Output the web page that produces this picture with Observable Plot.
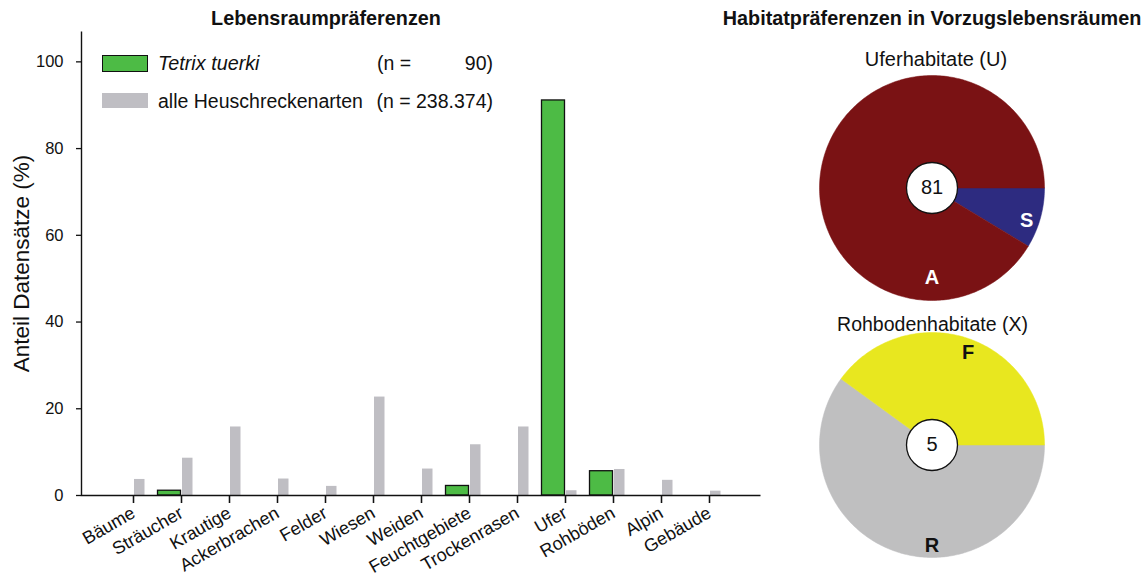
<!DOCTYPE html>
<html><head><meta charset="utf-8">
<script src="https://cdn.jsdelivr.net/npm/d3@7"></script>
<script src="https://cdn.jsdelivr.net/npm/@observablehq/plot@0.6"></script>
<style>
body{margin:0;background:#fff;font-family:"Liberation Sans",Arial,sans-serif;}
#root{position:relative;width:1146px;height:576px;overflow:hidden;background:#fff;}
.abs{position:absolute;white-space:nowrap;line-height:1;color:#111;}
.plotbox{position:absolute;}
</style></head><body><div id="root"></div>
<script>
// ---------- data ----------
const categories = ["Bäume","Sträucher","Krautige","Ackerbrachen","Felder","Wiesen","Weiden","Feuchtgebiete","Trockenrasen","Ufer","Rohböden","Alpin","Gebäude"];
const tetrixShare = [0, 1.1, 0, 0, 0, 0, 0, 2.2, 0, 91.1, 5.6, 0, 0];
const allShare    = [3.7, 8.6, 15.8, 3.8, 2.1, 22.7, 6.1, 11.7, 15.8, 1.1, 6.0, 3.5, 1.0];
const seriesNames = ["Tetrix tuerki", "alle Heuschreckenarten"];
const seriesN = ["90", "238.374"];
const yTicks = [0, 20, 40, 60, 80, 100];

const uferKeys = ["S", "A"];
const uferValues = [7, 74];
const rohKeys = ["R", "F"];
const rohValues = [3, 2];

const mainTitle = "Lebensraumpräferenzen";
const rightTitle = "Habitatpräferenzen in Vorzugslebensräumen";
const uferTitle = "Uferhabitate (U)";
const rohTitle = "Rohbodenhabitate (X)";
const yLabel = "Anteil Datensätze (%)";

// ---------- build ----------
const root = document.getElementById("root");
const FONT = "Liberation Sans, Arial, sans-serif";

const tetrixRows = categories.map((c, i) => ({cat: c, value: tetrixShare[i]})).filter(d => d.value > 0);
const allRows = categories.map((c, i) => ({cat: c, value: allShare[i]}));

const W = 780, H = 576, mL = 81, mR = 20, mT = 31, mB = 81;
const fw = W - mL - mR, fh = H - mT - mB;

const bars = Plot.plot({
  width: W, height: H,
  marginLeft: mL, marginRight: mR, marginTop: mT, marginBottom: mB,
  style: {fontFamily: FONT, fontSize: "17px", color: "#111", background: "transparent", overflow: "visible"},
  x: {domain: categories, paddingInner: 0, paddingOuter: 0.43},
  y: {domain: [0, 107], axis: null},
  marks: [
    Plot.barY(allRows, {x: "cat", y: "value", fill: "#bfbec3", insetLeft: 25, insetRight: 12.5}),
    Plot.barY(tetrixRows, {x: "cat", y: "value", fill: "#4dbb45", stroke: "#111", strokeWidth: 1.3, insetLeft: 0.5, insetRight: 24.5}),
    // left + bottom axis lines (frame stroked only along its left and bottom edges)
    Plot.frame({stroke: "#111", strokeWidth: 1.4, strokeDasharray: `0 ${fw + fh} ${fw + fh}`}),
    // y ticks and labels
    Plot.tickY(yTicks, {y: d => d, stroke: "#111", strokeWidth: 1.3, insetLeft: -5, insetRight: fw}),
    Plot.text(yTicks, {y: d => d, text: d => String(d), frameAnchor: "left", dx: -18, textAnchor: "end", fontSize: 16.5, fill: "#111"}),
    // x ticks and rotated labels
    Plot.tickX(categories, {x: d => d, stroke: "#111", strokeWidth: 1.3, insetTop: fh, insetBottom: -8}),
    Plot.axisX({tickRotate: -30, tickSize: 8, tickPadding: 8, fontSize: 18, stroke: "#111", strokeWidth: 1.3, label: null}),
    Plot.text([yLabel], {frameAnchor: "left", text: d => d, rotate: -90, dx: -59.5, textAnchor: "middle", fontSize: 22.5, fill: "#111"})
  ]
});
const barBox = document.createElement("div");
barBox.className = "plotbox";
barBox.style.left = "0px"; barBox.style.top = "0px";
barBox.appendChild(bars);
root.appendChild(barBox);

// ---------- pies ----------
function pieChart(keys, values, colors, labelColor, bottomR, midR) {
  const total = d3.sum(values);
  const arcs = d3.pie().sort(null).startAngle(Math.PI / 2).endAngle(Math.PI / 2 + 2 * Math.PI)(values);
  const pt = (a, r) => ({x: r * Math.sin(a), y: r * Math.cos(a)});
  const marks = [];
  arcs.forEach((arc, i) => {
    const n = Math.max(2, Math.ceil((arc.endAngle - arc.startAngle) / (Math.PI / 180)));
    const pts = [pt(0, 0)];
    for (let k = 0; k <= n; k++) pts.push(pt(arc.startAngle + (arc.endAngle - arc.startAngle) * k / n, 1));
    pts.push(pt(0, 0));
    marks.push(Plot.line(pts, {x: "x", y: "y", fill: colors[i], stroke: colors[i], strokeWidth: 0.5, curve: "linear"}));
  });
  const labels = arcs.map((arc, i) => {
    const containsBottom = arc.startAngle <= Math.PI && arc.endAngle >= Math.PI;
    const a = containsBottom ? Math.PI : (arc.startAngle + arc.endAngle) / 2 + 0.06;
    const p = pt(a, containsBottom ? bottomR : midR);
    return {...p, key: keys[i]};
  });
  marks.push(Plot.text(labels, {x: "x", y: "y", text: "key", fill: labelColor, fontWeight: "bold", fontSize: 20}));
  marks.push(Plot.dot([{x: 0, y: 0}], {x: "x", y: "y", r: 25.5, fill: "white", stroke: "#111", strokeWidth: 1.3}));
  marks.push(Plot.text([{x: 0, y: 0, t: String(total)}], {x: "x", y: "y", text: "t", fill: "#111", fontSize: 20}));
  return Plot.plot({
    width: 235, height: 235, margin: 5,
    style: {fontFamily: FONT, background: "transparent", overflow: "visible"},
    x: {domain: [-1, 1], axis: null},
    y: {domain: [-1, 1], axis: null},
    marks
  });
}
function place(node, left, top) {
  const box = document.createElement("div");
  box.className = "plotbox";
  box.style.left = left + "px"; box.style.top = top + "px";
  box.appendChild(node);
  root.appendChild(box);
}
place(pieChart(uferKeys, uferValues, ["#2d2b80", "#7a1214"], "#fff", 0.80, 0.89), 814, 70);
place(pieChart(rohKeys, rohValues, ["#bfbfc0", "#e8e71f"], "#111", 0.89, 0.88), 814, 327);

// ---------- text ----------
function label(txt, {cx, left, right, top, size, weight = "normal", style = "normal"}) {
  const d = document.createElement("div");
  d.className = "abs";
  d.textContent = txt;
  d.style.fontSize = size + "px";
  d.style.fontWeight = weight;
  d.style.fontStyle = style;
  d.style.top = top + "px";
  if (cx !== undefined) { d.style.left = (cx - 300) + "px"; d.style.width = "600px"; d.style.textAlign = "center"; }
  else if (right !== undefined) { d.style.left = (right - 300) + "px"; d.style.width = "300px"; d.style.textAlign = "right"; }
  else d.style.left = left + "px";
  root.appendChild(d);
  return d;
}
label(mainTitle, {cx: 326, top: 8.5, size: 19.8, weight: "bold"});
label(rightTitle, {cx: 932, top: 8.5, size: 19.8, weight: "bold"});
label(uferTitle, {cx: 936, top: 49, size: 20});
label(rohTitle, {cx: 932.5, top: 314.5, size: 19.5});

// legend
function swatch(x, y, w, h, fill, stroke) {
  const s = document.createElement("div");
  s.style.position = "absolute";
  s.style.left = x + "px"; s.style.top = y + "px";
  s.style.width = w + "px"; s.style.height = h + "px";
  s.style.background = fill;
  s.style.boxSizing = "border-box";
  if (stroke) s.style.border = "1.3px solid " + stroke;
  root.appendChild(s);
}
swatch(102, 55, 46, 17, "#4dbb45", "#111");
swatch(102, 93, 46, 15, "#bfbec3", null);
label(seriesNames[0], {left: 158, top: 53.5, size: 19.8, style: "italic"});
label("(n =", {left: 377, top: 54, size: 19.5});
label(seriesN[0] + ")", {right: 493, top: 54, size: 19.5});
label(seriesNames[1], {left: 158, top: 92, size: 19.5});
label("(n = " + seriesN[1] + ")", {right: 493, top: 92, size: 19.5});
</script></body></html>
